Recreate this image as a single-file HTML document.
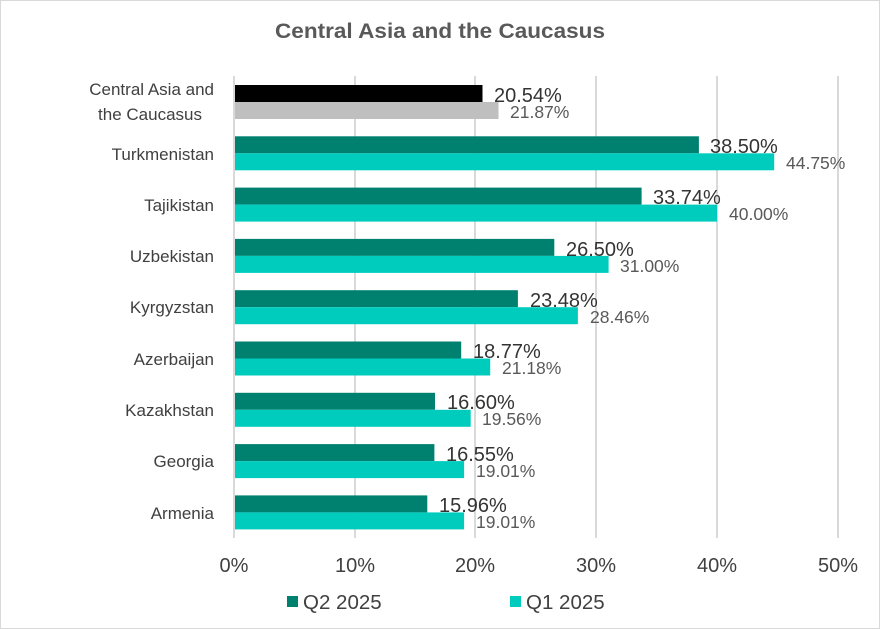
<!DOCTYPE html>
<html><head><meta charset="utf-8"><style>
html,body{margin:0;padding:0;background:#fff}
svg{display:block}
text{font-family:"Liberation Sans",sans-serif}
</style></head><body>
<svg width="880" height="629" xmlns="http://www.w3.org/2000/svg">
<rect x="0.5" y="0.5" width="879" height="628" fill="#fff" stroke="#d9d9d9"/>
<text x="440" y="38" text-anchor="middle" font-size="21" font-weight="bold" fill="#595959" textLength="330" lengthAdjust="spacingAndGlyphs">Central Asia and the Caucasus</text>
<g stroke="#d9d9d9" stroke-width="2">
<line x1="234" y1="76" x2="234" y2="538"/><line x1="355" y1="76" x2="355" y2="538"/><line x1="475" y1="76" x2="475" y2="538"/><line x1="596" y1="76" x2="596" y2="538"/><line x1="717" y1="76" x2="717" y2="538"/><line x1="838" y1="76" x2="838" y2="538"/>
</g>
<g font-size="20" fill="#404040" text-anchor="middle">
<text x="234" y="572">0%</text><text x="355" y="572">10%</text><text x="475" y="572">20%</text><text x="596" y="572">30%</text><text x="717" y="572">40%</text><text x="838" y="572">50%</text>
</g>
<g font-size="17" fill="#404040" text-anchor="end">
<text x="214" y="95">Central Asia and</text><text x="202" y="120">the Caucasus</text>
<text x="214" y="160">Turkmenistan</text>
<text x="214" y="211">Tajikistan</text>
<text x="214" y="262">Uzbekistan</text>
<text x="214" y="313">Kyrgyzstan</text>
<text x="214" y="365">Azerbaijan</text>
<text x="214" y="416">Kazakhstan</text>
<text x="214" y="467">Georgia</text>
<text x="214" y="519">Armenia</text>
</g>
<rect x="235" y="85" width="247.5" height="17" fill="#000"/>
<rect x="235" y="102" width="263.5" height="17" fill="#bfbfbf"/>
<g fill="#008170">
<rect x="235" y="136.3" width="463.9" height="17"/>
<rect x="235" y="187.6" width="406.6" height="17"/>
<rect x="235" y="238.9" width="319.3" height="17"/>
<rect x="235" y="290.2" width="282.9" height="17"/>
<rect x="235" y="341.5" width="226.2" height="17"/>
<rect x="235" y="392.8" width="200" height="17"/>
<rect x="235" y="444.1" width="199.4" height="17"/>
<rect x="235" y="495.4" width="192.3" height="17"/>
</g>
<g fill="#00ccbe">
<rect x="235" y="153.3" width="539.2" height="17"/>
<rect x="235" y="204.6" width="482" height="17"/>
<rect x="235" y="255.9" width="373.6" height="17"/>
<rect x="235" y="307.2" width="342.9" height="17"/>
<rect x="235" y="358.5" width="255.2" height="17"/>
<rect x="235" y="409.8" width="235.7" height="17"/>
<rect x="235" y="461.1" width="229.1" height="17"/>
<rect x="235" y="512.4" width="229.1" height="17"/>
</g>
<g font-size="20" fill="#333">
<text x="494" y="102">20.54%</text>
<text x="710" y="153">38.50%</text>
<text x="653" y="204">33.74%</text>
<text x="566" y="256">26.50%</text>
<text x="530" y="307">23.48%</text>
<text x="473" y="358">18.77%</text>
<text x="447" y="409">16.60%</text>
<text x="446" y="461">16.55%</text>
<text x="439" y="512">15.96%</text>
</g>
<g font-size="17.5" fill="#595959">
<text x="510" y="118">21.87%</text>
<text x="786" y="169">44.75%</text>
<text x="729" y="220">40.00%</text>
<text x="620" y="272">31.00%</text>
<text x="590" y="323">28.46%</text>
<text x="502" y="374">21.18%</text>
<text x="482" y="425">19.56%</text>
<text x="476" y="477">19.01%</text>
<text x="476" y="528">19.01%</text>
</g>
<rect x="287" y="596" width="11" height="11" fill="#008170"/>
<text x="303" y="609" font-size="20.5" fill="#404040">Q2 2025</text>
<rect x="510" y="596" width="11" height="11" fill="#00ccbe"/>
<text x="526" y="609" font-size="20.5" fill="#404040">Q1 2025</text>
</svg>
</body></html>
